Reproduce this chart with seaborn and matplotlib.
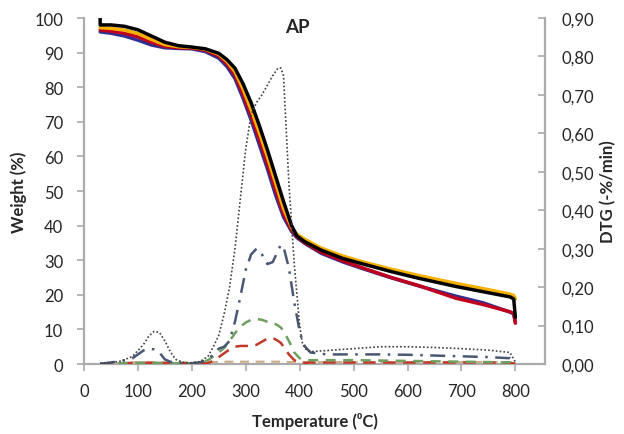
import matplotlib
matplotlib.use("Agg")
import matplotlib.pyplot as plt
from matplotlib.ticker import FuncFormatter, MultipleLocator
import pandas as pd
import seaborn as sns

sns.set_theme(style="white")
plt.rcParams["font.family"] = ["Lato", "DejaVu Sans"]

# TG curves (Weight %)
temp_tg = [30, 50, 75, 100, 125, 150, 175, 200, 225, 250, 265, 280, 295, 310, 325,
           340, 355, 370, 385, 395, 410, 440, 480, 520, 570, 620, 690, 740, 790, 797, 800]
tg_blue = [96.0, 95.6, 94.8, 93.6, 92.2, 91.4, 91.2, 91.1, 90.3, 88.4, 86.0, 82.5, 76.8, 70.5, 63.5,
           56.5, 49.0, 42.5, 38.3, 36.5, 34.8, 32.0, 29.5, 27.4, 24.9, 22.6, 19.6, 17.7, 15.0, 14.5, 12.0]
tg_red = [96.6, 96.2, 95.6, 94.6, 93.0, 91.8, 91.4, 91.3, 90.7, 89.0, 86.8, 83.5, 78.0, 71.8, 65.0,
          58.0, 50.5, 43.5, 38.8, 36.8, 35.0, 32.3, 29.8, 27.6, 25.0, 22.7, 19.0, 17.2, 15.1, 14.6, 11.8]
tg_yellow = [97.2, 97.0, 96.5, 95.5, 93.8, 92.3, 91.7, 91.5, 91.0, 89.5, 87.5, 84.5, 79.5, 73.5, 67.0,
             60.0, 52.5, 45.0, 39.5, 37.5, 36.0, 33.5, 31.2, 29.4, 27.4, 25.6, 23.3, 21.8, 20.2, 19.8, 18.8]
temp_black = [30] + temp_tg
tg_black = [100.0, 98.0, 98.0, 97.6, 96.6, 94.8, 93.0, 92.0, 91.6, 91.1, 89.8, 88.0, 85.5, 81.0, 75.5, 69.0,
            62.0, 54.5, 47.0, 40.0, 37.0, 35.3, 32.9, 30.5, 28.8, 26.7, 24.8, 22.4, 20.9, 19.4, 18.8, 13.5]

# DTG curves (-%/min)
temp_dtg = [30, 50, 70, 90, 110, 120, 130, 140, 150, 160, 170, 185, 200, 215, 230, 240, 250, 260,
            270, 280, 290, 300, 310, 320, 330, 340, 350, 360, 365, 370, 380, 390, 400, 405, 410,
            420, 450, 500, 550, 600, 650, 700, 750, 790, 800]
dtg_dotted = [0.001, 0.004, 0.008, 0.02, 0.05, 0.072, 0.085, 0.082, 0.06, 0.032, 0.012, 0.004, 0.003,
              0.006, 0.02, 0.045, 0.075, 0.13, 0.2, 0.3, 0.43, 0.56, 0.65, 0.68, 0.70, 0.725, 0.75,
              0.77, 0.77, 0.75, 0.47, 0.26, 0.1, 0.055, 0.04, 0.032, 0.035, 0.04, 0.045, 0.045,
              0.043, 0.04, 0.036, 0.03, 0.005]
dtg_dashdot = [0.001, 0.004, 0.008, 0.015, 0.035, 0.04, 0.038, 0.03, 0.012, 0.006, 0.003, 0.002, 0.002,
               0.004, 0.012, 0.025, 0.04, 0.045, 0.06, 0.11, 0.175, 0.245, 0.285, 0.3, 0.285, 0.26,
               0.265, 0.295, 0.31, 0.305, 0.25, 0.16, 0.085, 0.06, 0.045, 0.03, 0.025, 0.025, 0.025,
               0.024, 0.022, 0.02, 0.018, 0.015, 0.003]
dtg_green = [0.0, 0.001, 0.002, 0.003, 0.003, 0.003, 0.003, 0.003, 0.002, 0.002, 0.002, 0.002, 0.002,
             0.003, 0.01, 0.02, 0.03, 0.042, 0.06, 0.08, 0.097, 0.108, 0.115, 0.117, 0.115, 0.11,
             0.108, 0.1, 0.095, 0.086, 0.06, 0.03, 0.015, 0.012, 0.01, 0.01, 0.01, 0.01, 0.009,
             0.008, 0.007, 0.006, 0.005, 0.004, 0.002]
dtg_red = [0.0, 0.001, 0.002, 0.003, 0.003, 0.003, 0.003, 0.003, 0.002, 0.002, 0.002, 0.002, 0.002,
           0.002, 0.003, 0.008, 0.018, 0.028, 0.038, 0.045, 0.047, 0.047, 0.047, 0.05, 0.058, 0.066,
           0.068, 0.06, 0.055, 0.045, 0.025, 0.01, 0.004, 0.003, 0.003, 0.004, 0.004, 0.004, 0.004,
           0.004, 0.004, 0.004, 0.004, 0.003, 0.001]
dtg_tan = [0.0, 0.001, 0.002, 0.004, 0.005, 0.005, 0.005, 0.005, 0.005, 0.005, 0.004, 0.004, 0.004,
           0.004, 0.004, 0.005, 0.005, 0.006, 0.006, 0.006, 0.006, 0.006, 0.006, 0.006, 0.006, 0.006,
           0.006, 0.006, 0.006, 0.006, 0.005, 0.005, 0.005, 0.005, 0.005, 0.005, 0.005, 0.005, 0.005,
           0.005, 0.005, 0.005, 0.005, 0.004, 0.001]

GRAY = "#ABABAB"
TXT = "#262626"

fig = plt.figure(figsize=(6.24, 4.35), dpi=100)
ax = fig.add_axes([0.1346, 0.1609, 0.7388, 0.7954])
ax2 = ax.twinx()

tg_series = [
    (temp_tg, tg_blue, "#2E3192"),
    (temp_tg, tg_red, "#C0001F"),
    (temp_tg, tg_yellow, "#F5B000"),
    (temp_black, tg_black, "#000000"),
]
for t, w, c in tg_series:
    df = pd.DataFrame({"T": t, "W": w})
    sns.lineplot(data=df, x="T", y="W", ax=ax, color=c, linewidth=2.5,
                 estimator=None, sort=False, legend=False)

dtg_series = [
    (dtg_tan, "#C9AE8C", (0, (4, 3)), 1.6),
    (dtg_red, "#C0392B", (0, (5, 3)), 1.8),
    (dtg_green, "#6FA060", (0, (4, 3)), 1.8),
    (dtg_dashdot, "#4A5874", (0, (6, 3, 1, 3)), 1.8),
    (dtg_dotted, "#404040", (0, (1, 1.3)), 1.2),
]
for d, c, ls, lw in dtg_series:
    df = pd.DataFrame({"T": temp_dtg, "D": d})
    sns.lineplot(data=df, x="T", y="D", ax=ax2, color=c, linestyle=ls, linewidth=lw,
                 estimator=None, sort=False, legend=False)

ax.set_xlim(0, 855)
ax.set_ylim(0, 100)
ax2.set_ylim(0, 0.9)
ax.xaxis.set_major_locator(MultipleLocator(100))
ax.yaxis.set_major_locator(MultipleLocator(10))
ax2.yaxis.set_major_locator(MultipleLocator(0.1))
ax2.yaxis.set_major_formatter(FuncFormatter(lambda v, p: f"{v:.2f}".replace(".", ",")))

for a in (ax, ax2):
    for s in a.spines.values():
        s.set_visible(False)
ax.spines["left"].set_visible(True)
ax.spines["bottom"].set_visible(True)
ax2.spines["right"].set_visible(True)
for s in (ax.spines["left"], ax.spines["bottom"], ax2.spines["right"]):
    s.set_color(GRAY)
    s.set_linewidth(1.6)

ax.tick_params(axis="x", direction="out", length=5, width=1.2, color=GRAY,
               labelsize=12, labelcolor=TXT, pad=9, bottom=True)
ax.tick_params(axis="y", direction="out", length=5, width=1.2, color=GRAY,
               labelsize=12, labelcolor=TXT, pad=10, left=True)
ax2.tick_params(axis="y", direction="in", length=5, width=1.2, color=GRAY,
                labelsize=12, labelcolor=TXT, pad=12, right=True)

ax.set_xlabel("Temperature (⁰C)", fontsize=12, fontweight="bold", color=TXT, labelpad=9)
ax.set_ylabel("Weight (%)", fontsize=12, fontweight="bold", color=TXT, labelpad=5)
ax2.set_ylabel("DTG (-%/min)", fontsize=12, fontweight="bold", color=TXT, labelpad=4)
ax.text(0.462, 0.975, "AP", transform=ax.transAxes, ha="center", va="center",
        fontsize=13.5, fontweight="bold", color=TXT)

fig.savefig("out.png", dpi=100)
